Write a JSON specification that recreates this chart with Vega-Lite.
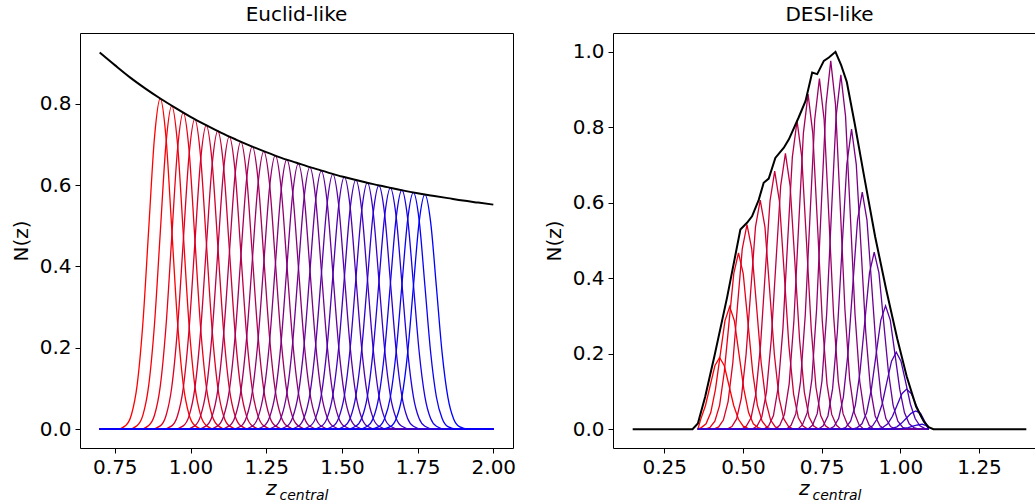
{
"$schema":"https://vega.github.io/schema/vega-lite/v6.json",
"padding":{"left":10,"top":4,"right":0,"bottom":0},
"spacing":26,
"config":{"font":"DejaVu Sans","view":{"stroke":"#000","strokeWidth":1},
"axis":{"domain":false,"grid":false,"tickColor":"#000","tickSize":5,"tickWidth":1,"labelColor":"#000","labelFontSize":20,"labelFont":"DejaVu Sans","titleColor":"#000","titleFontSize":20,"titleFontWeight":"normal","titleFont":"DejaVu Sans","labelPadding":4,"labelFlush":false},
"title":{"fontSize":20,"fontWeight":"normal","color":"#000","font":"DejaVu Sans","offset":8}},
"datasets":{
"E":[
{"c":0,"z":0.7,"n":0},{"c":0,"z":0.757,"n":0},{"c":0,"z":0.786,"n":0.009},{"c":0,"z":0.805,"n":0.036},{"c":0,"z":0.824,"n":0.11},{"c":0,"z":0.843,"n":0.264},{"c":0,"z":0.862,"n":0.493},{"c":0,"z":0.881,"n":0.717},{"c":0,"z":0.9,"n":0.813},{"c":0,"z":0.919,"n":0.717},{"c":0,"z":0.938,"n":0.493},{"c":0,"z":0.957,"n":0.264},{"c":0,"z":0.976,"n":0.11},{"c":0,"z":0.995,"n":0.036},{"c":0,"z":1.014,"n":0.009},{"c":0,"z":1.043,"n":0},{"c":0,"z":2,"n":0},
{"c":1,"z":0.7,"n":0},{"c":1,"z":0.795,"n":0},{"c":1,"z":0.824,"n":0.009},{"c":1,"z":0.843,"n":0.035},{"c":1,"z":0.862,"n":0.108},{"c":1,"z":0.881,"n":0.258},{"c":1,"z":0.9,"n":0.482},{"c":1,"z":0.919,"n":0.702},{"c":1,"z":0.938,"n":0.795},{"c":1,"z":0.957,"n":0.702},{"c":1,"z":0.976,"n":0.482},{"c":1,"z":0.995,"n":0.258},{"c":1,"z":1.014,"n":0.108},{"c":1,"z":1.033,"n":0.035},{"c":1,"z":1.052,"n":0.009},{"c":1,"z":1.081,"n":0},{"c":1,"z":2,"n":0},
{"c":2,"z":0.7,"n":0},{"c":2,"z":0.833,"n":0},{"c":2,"z":0.862,"n":0.009},{"c":2,"z":0.881,"n":0.034},{"c":2,"z":0.9,"n":0.105},{"c":2,"z":0.919,"n":0.253},{"c":2,"z":0.938,"n":0.472},{"c":2,"z":0.957,"n":0.687},{"c":2,"z":0.976,"n":0.778},{"c":2,"z":0.995,"n":0.687},{"c":2,"z":1.014,"n":0.472},{"c":2,"z":1.033,"n":0.253},{"c":2,"z":1.052,"n":0.105},{"c":2,"z":1.071,"n":0.034},{"c":2,"z":1.09,"n":0.009},{"c":2,"z":1.119,"n":0},{"c":2,"z":2,"n":0},
{"c":3,"z":0.7,"n":0},{"c":3,"z":0.871,"n":0},{"c":3,"z":0.9,"n":0.008},{"c":3,"z":0.919,"n":0.033},{"c":3,"z":0.938,"n":0.103},{"c":3,"z":0.957,"n":0.247},{"c":3,"z":0.976,"n":0.462},{"c":3,"z":0.995,"n":0.672},{"c":3,"z":1.014,"n":0.762},{"c":3,"z":1.033,"n":0.672},{"c":3,"z":1.052,"n":0.462},{"c":3,"z":1.071,"n":0.247},{"c":3,"z":1.09,"n":0.103},{"c":3,"z":1.109,"n":0.033},{"c":3,"z":1.128,"n":0.008},{"c":3,"z":1.157,"n":0},{"c":3,"z":2,"n":0},
{"c":4,"z":0.7,"n":0},{"c":4,"z":0.909,"n":0},{"c":4,"z":0.938,"n":0.008},{"c":4,"z":0.957,"n":0.033},{"c":4,"z":0.976,"n":0.101},{"c":4,"z":0.995,"n":0.243},{"c":4,"z":1.014,"n":0.453},{"c":4,"z":1.033,"n":0.659},{"c":4,"z":1.052,"n":0.747},{"c":4,"z":1.071,"n":0.659},{"c":4,"z":1.09,"n":0.453},{"c":4,"z":1.109,"n":0.243},{"c":4,"z":1.128,"n":0.101},{"c":4,"z":1.147,"n":0.033},{"c":4,"z":1.166,"n":0.008},{"c":4,"z":1.195,"n":0},{"c":4,"z":2,"n":0},
{"c":5,"z":0.7,"n":0},{"c":5,"z":0.947,"n":0},{"c":5,"z":0.976,"n":0.008},{"c":5,"z":0.995,"n":0.032},{"c":5,"z":1.014,"n":0.099},{"c":5,"z":1.033,"n":0.238},{"c":5,"z":1.052,"n":0.445},{"c":5,"z":1.071,"n":0.647},{"c":5,"z":1.09,"n":0.733},{"c":5,"z":1.109,"n":0.647},{"c":5,"z":1.128,"n":0.445},{"c":5,"z":1.147,"n":0.238},{"c":5,"z":1.166,"n":0.099},{"c":5,"z":1.185,"n":0.032},{"c":5,"z":1.204,"n":0.008},{"c":5,"z":1.233,"n":0},{"c":5,"z":2,"n":0},
{"c":6,"z":0.7,"n":0},{"c":6,"z":0.985,"n":0},{"c":6,"z":1.014,"n":0.008},{"c":6,"z":1.033,"n":0.032},{"c":6,"z":1.052,"n":0.097},{"c":6,"z":1.071,"n":0.233},{"c":6,"z":1.09,"n":0.436},{"c":6,"z":1.109,"n":0.635},{"c":6,"z":1.128,"n":0.719},{"c":6,"z":1.147,"n":0.635},{"c":6,"z":1.166,"n":0.436},{"c":6,"z":1.185,"n":0.233},{"c":6,"z":1.204,"n":0.097},{"c":6,"z":1.223,"n":0.032},{"c":6,"z":1.242,"n":0.008},{"c":6,"z":1.271,"n":0},{"c":6,"z":2,"n":0},
{"c":7,"z":0.7,"n":0},{"c":7,"z":1.023,"n":0},{"c":7,"z":1.052,"n":0.008},{"c":7,"z":1.071,"n":0.031},{"c":7,"z":1.09,"n":0.096},{"c":7,"z":1.109,"n":0.23},{"c":7,"z":1.128,"n":0.429},{"c":7,"z":1.147,"n":0.624},{"c":7,"z":1.166,"n":0.707},{"c":7,"z":1.185,"n":0.624},{"c":7,"z":1.204,"n":0.429},{"c":7,"z":1.223,"n":0.23},{"c":7,"z":1.242,"n":0.096},{"c":7,"z":1.261,"n":0.031},{"c":7,"z":1.28,"n":0.008},{"c":7,"z":1.309,"n":0},{"c":7,"z":2,"n":0},
{"c":8,"z":0.7,"n":0},{"c":8,"z":1.061,"n":0},{"c":8,"z":1.09,"n":0.008},{"c":8,"z":1.109,"n":0.031},{"c":8,"z":1.128,"n":0.094},{"c":8,"z":1.147,"n":0.226},{"c":8,"z":1.166,"n":0.422},{"c":8,"z":1.185,"n":0.613},{"c":8,"z":1.204,"n":0.695},{"c":8,"z":1.223,"n":0.613},{"c":8,"z":1.242,"n":0.422},{"c":8,"z":1.261,"n":0.226},{"c":8,"z":1.28,"n":0.094},{"c":8,"z":1.299,"n":0.031},{"c":8,"z":1.318,"n":0.008},{"c":8,"z":1.347,"n":0},{"c":8,"z":2,"n":0},
{"c":9,"z":0.7,"n":0},{"c":9,"z":1.099,"n":0},{"c":9,"z":1.128,"n":0.008},{"c":9,"z":1.147,"n":0.03},{"c":9,"z":1.166,"n":0.092},{"c":9,"z":1.185,"n":0.222},{"c":9,"z":1.204,"n":0.414},{"c":9,"z":1.223,"n":0.603},{"c":9,"z":1.242,"n":0.683},{"c":9,"z":1.261,"n":0.603},{"c":9,"z":1.28,"n":0.414},{"c":9,"z":1.299,"n":0.222},{"c":9,"z":1.318,"n":0.092},{"c":9,"z":1.337,"n":0.03},{"c":9,"z":1.356,"n":0.008},{"c":9,"z":1.385,"n":0},{"c":9,"z":2,"n":0},
{"c":10,"z":0.7,"n":0},{"c":10,"z":1.137,"n":0},{"c":10,"z":1.166,"n":0.007},{"c":10,"z":1.185,"n":0.03},{"c":10,"z":1.204,"n":0.091},{"c":10,"z":1.223,"n":0.219},{"c":10,"z":1.242,"n":0.408},{"c":10,"z":1.261,"n":0.594},{"c":10,"z":1.28,"n":0.673},{"c":10,"z":1.299,"n":0.594},{"c":10,"z":1.318,"n":0.408},{"c":10,"z":1.337,"n":0.219},{"c":10,"z":1.356,"n":0.091},{"c":10,"z":1.375,"n":0.03},{"c":10,"z":1.394,"n":0.007},{"c":10,"z":1.423,"n":0},{"c":10,"z":2,"n":0},
{"c":11,"z":0.7,"n":0},{"c":11,"z":1.175,"n":0},{"c":11,"z":1.204,"n":0.007},{"c":11,"z":1.223,"n":0.029},{"c":11,"z":1.242,"n":0.09},{"c":11,"z":1.261,"n":0.215},{"c":11,"z":1.28,"n":0.402},{"c":11,"z":1.299,"n":0.585},{"c":11,"z":1.318,"n":0.663},{"c":11,"z":1.337,"n":0.585},{"c":11,"z":1.356,"n":0.402},{"c":11,"z":1.375,"n":0.215},{"c":11,"z":1.394,"n":0.09},{"c":11,"z":1.413,"n":0.029},{"c":11,"z":1.432,"n":0.007},{"c":11,"z":1.461,"n":0},{"c":11,"z":2,"n":0},
{"c":12,"z":0.7,"n":0},{"c":12,"z":1.213,"n":0},{"c":12,"z":1.242,"n":0.007},{"c":12,"z":1.261,"n":0.029},{"c":12,"z":1.28,"n":0.088},{"c":12,"z":1.299,"n":0.212},{"c":12,"z":1.318,"n":0.396},{"c":12,"z":1.337,"n":0.576},{"c":12,"z":1.356,"n":0.653},{"c":12,"z":1.375,"n":0.576},{"c":12,"z":1.394,"n":0.396},{"c":12,"z":1.413,"n":0.212},{"c":12,"z":1.432,"n":0.088},{"c":12,"z":1.451,"n":0.029},{"c":12,"z":1.47,"n":0.007},{"c":12,"z":1.499,"n":0},{"c":12,"z":2,"n":0},
{"c":13,"z":0.7,"n":0},{"c":13,"z":1.251,"n":0},{"c":13,"z":1.28,"n":0.007},{"c":13,"z":1.299,"n":0.028},{"c":13,"z":1.318,"n":0.087},{"c":13,"z":1.337,"n":0.209},{"c":13,"z":1.356,"n":0.391},{"c":13,"z":1.375,"n":0.568},{"c":13,"z":1.394,"n":0.644},{"c":13,"z":1.413,"n":0.568},{"c":13,"z":1.432,"n":0.391},{"c":13,"z":1.451,"n":0.209},{"c":13,"z":1.47,"n":0.087},{"c":13,"z":1.489,"n":0.028},{"c":13,"z":1.508,"n":0.007},{"c":13,"z":1.537,"n":0},{"c":13,"z":2,"n":0},
{"c":14,"z":0.7,"n":0},{"c":14,"z":1.289,"n":0},{"c":14,"z":1.318,"n":0.007},{"c":14,"z":1.337,"n":0.028},{"c":14,"z":1.356,"n":0.086},{"c":14,"z":1.375,"n":0.206},{"c":14,"z":1.394,"n":0.385},{"c":14,"z":1.413,"n":0.56},{"c":14,"z":1.432,"n":0.635},{"c":14,"z":1.451,"n":0.56},{"c":14,"z":1.47,"n":0.385},{"c":14,"z":1.489,"n":0.206},{"c":14,"z":1.508,"n":0.086},{"c":14,"z":1.527,"n":0.028},{"c":14,"z":1.546,"n":0.007},{"c":14,"z":1.575,"n":0},{"c":14,"z":2,"n":0},
{"c":15,"z":0.7,"n":0},{"c":15,"z":1.327,"n":0},{"c":15,"z":1.356,"n":0.007},{"c":15,"z":1.375,"n":0.028},{"c":15,"z":1.394,"n":0.085},{"c":15,"z":1.413,"n":0.204},{"c":15,"z":1.432,"n":0.38},{"c":15,"z":1.451,"n":0.553},{"c":15,"z":1.47,"n":0.627},{"c":15,"z":1.489,"n":0.553},{"c":15,"z":1.508,"n":0.38},{"c":15,"z":1.527,"n":0.204},{"c":15,"z":1.546,"n":0.085},{"c":15,"z":1.565,"n":0.028},{"c":15,"z":1.584,"n":0.007},{"c":15,"z":1.613,"n":0},{"c":15,"z":2,"n":0},
{"c":16,"z":0.7,"n":0},{"c":16,"z":1.365,"n":0},{"c":16,"z":1.394,"n":0.007},{"c":16,"z":1.413,"n":0.027},{"c":16,"z":1.432,"n":0.084},{"c":16,"z":1.451,"n":0.201},{"c":16,"z":1.47,"n":0.376},{"c":16,"z":1.489,"n":0.547},{"c":16,"z":1.508,"n":0.62},{"c":16,"z":1.527,"n":0.547},{"c":16,"z":1.546,"n":0.376},{"c":16,"z":1.565,"n":0.201},{"c":16,"z":1.584,"n":0.084},{"c":16,"z":1.603,"n":0.027},{"c":16,"z":1.622,"n":0.007},{"c":16,"z":1.651,"n":0},{"c":16,"z":2,"n":0},
{"c":17,"z":0.7,"n":0},{"c":17,"z":1.403,"n":0},{"c":17,"z":1.432,"n":0.007},{"c":17,"z":1.451,"n":0.027},{"c":17,"z":1.47,"n":0.083},{"c":17,"z":1.489,"n":0.199},{"c":17,"z":1.508,"n":0.372},{"c":17,"z":1.527,"n":0.541},{"c":17,"z":1.546,"n":0.613},{"c":17,"z":1.565,"n":0.541},{"c":17,"z":1.584,"n":0.372},{"c":17,"z":1.603,"n":0.199},{"c":17,"z":1.622,"n":0.083},{"c":17,"z":1.641,"n":0.027},{"c":17,"z":1.66,"n":0.007},{"c":17,"z":1.689,"n":0},{"c":17,"z":2,"n":0},
{"c":18,"z":0.7,"n":0},{"c":18,"z":1.441,"n":0},{"c":18,"z":1.47,"n":0.007},{"c":18,"z":1.489,"n":0.027},{"c":18,"z":1.508,"n":0.082},{"c":18,"z":1.527,"n":0.197},{"c":18,"z":1.546,"n":0.368},{"c":18,"z":1.565,"n":0.535},{"c":18,"z":1.584,"n":0.606},{"c":18,"z":1.603,"n":0.535},{"c":18,"z":1.622,"n":0.368},{"c":18,"z":1.641,"n":0.197},{"c":18,"z":1.66,"n":0.082},{"c":18,"z":1.679,"n":0.027},{"c":18,"z":1.698,"n":0.007},{"c":18,"z":1.727,"n":0},{"c":18,"z":2,"n":0},
{"c":19,"z":0.7,"n":0},{"c":19,"z":1.479,"n":0},{"c":19,"z":1.508,"n":0.007},{"c":19,"z":1.527,"n":0.026},{"c":19,"z":1.546,"n":0.081},{"c":19,"z":1.565,"n":0.194},{"c":19,"z":1.584,"n":0.363},{"c":19,"z":1.603,"n":0.529},{"c":19,"z":1.622,"n":0.599},{"c":19,"z":1.641,"n":0.529},{"c":19,"z":1.66,"n":0.363},{"c":19,"z":1.679,"n":0.194},{"c":19,"z":1.698,"n":0.081},{"c":19,"z":1.717,"n":0.026},{"c":19,"z":1.736,"n":0.007},{"c":19,"z":1.765,"n":0},{"c":19,"z":2,"n":0},
{"c":20,"z":0.7,"n":0},{"c":20,"z":1.517,"n":0},{"c":20,"z":1.546,"n":0.007},{"c":20,"z":1.565,"n":0.026},{"c":20,"z":1.584,"n":0.08},{"c":20,"z":1.603,"n":0.193},{"c":20,"z":1.622,"n":0.36},{"c":20,"z":1.641,"n":0.523},{"c":20,"z":1.66,"n":0.593},{"c":20,"z":1.679,"n":0.523},{"c":20,"z":1.698,"n":0.36},{"c":20,"z":1.717,"n":0.193},{"c":20,"z":1.736,"n":0.08},{"c":20,"z":1.755,"n":0.026},{"c":20,"z":1.774,"n":0.007},{"c":20,"z":1.803,"n":0},{"c":20,"z":2,"n":0},
{"c":21,"z":0.7,"n":0},{"c":21,"z":1.555,"n":0},{"c":21,"z":1.584,"n":0.007},{"c":21,"z":1.603,"n":0.026},{"c":21,"z":1.622,"n":0.08},{"c":21,"z":1.641,"n":0.191},{"c":21,"z":1.66,"n":0.357},{"c":21,"z":1.679,"n":0.519},{"c":21,"z":1.698,"n":0.588},{"c":21,"z":1.717,"n":0.519},{"c":21,"z":1.736,"n":0.357},{"c":21,"z":1.755,"n":0.191},{"c":21,"z":1.774,"n":0.08},{"c":21,"z":1.793,"n":0.026},{"c":21,"z":1.812,"n":0.007},{"c":21,"z":1.841,"n":0},{"c":21,"z":2,"n":0},
{"c":22,"z":0.7,"n":0},{"c":22,"z":1.593,"n":0},{"c":22,"z":1.622,"n":0.006},{"c":22,"z":1.641,"n":0.026},{"c":22,"z":1.66,"n":0.079},{"c":22,"z":1.679,"n":0.189},{"c":22,"z":1.698,"n":0.353},{"c":22,"z":1.717,"n":0.514},{"c":22,"z":1.736,"n":0.582},{"c":22,"z":1.755,"n":0.514},{"c":22,"z":1.774,"n":0.353},{"c":22,"z":1.793,"n":0.189},{"c":22,"z":1.812,"n":0.079},{"c":22,"z":1.831,"n":0.026},{"c":22,"z":1.85,"n":0.006},{"c":22,"z":1.879,"n":0},{"c":22,"z":2,"n":0},
{"c":23,"z":0.7,"n":0},{"c":23,"z":1.631,"n":0},{"c":23,"z":1.66,"n":0.006},{"c":23,"z":1.679,"n":0.025},{"c":23,"z":1.698,"n":0.078},{"c":23,"z":1.717,"n":0.187},{"c":23,"z":1.736,"n":0.35},{"c":23,"z":1.755,"n":0.509},{"c":23,"z":1.774,"n":0.577},{"c":23,"z":1.793,"n":0.509},{"c":23,"z":1.812,"n":0.35},{"c":23,"z":1.831,"n":0.187},{"c":23,"z":1.85,"n":0.078},{"c":23,"z":1.869,"n":0.025},{"c":23,"z":1.888,"n":0.006},{"c":23,"z":1.917,"n":0},{"c":23,"z":2,"n":0}
],
"EE":[
{"z":0.7,"n":0.926},{"z":0.75,"n":0.895},{"z":0.8,"n":0.865},{"z":0.85,"n":0.838},{"z":0.9,"n":0.813},{"z":0.95,"n":0.79},{"z":1.0,"n":0.768},{"z":1.05,"n":0.748},{"z":1.1,"n":0.729},{"z":1.15,"n":0.712},{"z":1.2,"n":0.696},{"z":1.25,"n":0.681},{"z":1.3,"n":0.667},{"z":1.35,"n":0.655},{"z":1.4,"n":0.643},{"z":1.45,"n":0.632},{"z":1.5,"n":0.621},{"z":1.55,"n":0.612},{"z":1.6,"n":0.603},{"z":1.65,"n":0.595},{"z":1.7,"n":0.587},{"z":1.75,"n":0.58},{"z":1.8,"n":0.574},{"z":1.85,"n":0.568},{"z":1.9,"n":0.562},{"z":1.95,"n":0.557},{"z":2.0,"n":0.552}
],
"D":[
{"c":0,"z":0.357,"n":0},{"c":0,"z":0.366,"n":0.026},{"c":0,"z":0.381,"n":0.062},{"c":0,"z":0.396,"n":0.115},{"c":0,"z":0.411,"n":0.168},{"c":0,"z":0.426,"n":0.19},{"c":0,"z":0.441,"n":0.168},{"c":0,"z":0.456,"n":0.115},{"c":0,"z":0.471,"n":0.062},{"c":0,"z":0.486,"n":0.026},{"c":0,"z":0.501,"n":0.008},{"c":0,"z":0.516,"n":0.002},{"c":0,"z":0.531,"n":0},{"c":0,"z":1.09,"n":0},
{"c":1,"z":0.357,"n":0},{"c":1,"z":0.368,"n":0.004},{"c":1,"z":0.383,"n":0.014},{"c":1,"z":0.398,"n":0.044},{"c":1,"z":0.413,"n":0.106},{"c":1,"z":0.428,"n":0.197},{"c":1,"z":0.443,"n":0.287},{"c":1,"z":0.458,"n":0.325},{"c":1,"z":0.473,"n":0.287},{"c":1,"z":0.488,"n":0.197},{"c":1,"z":0.503,"n":0.106},{"c":1,"z":0.518,"n":0.044},{"c":1,"z":0.533,"n":0.014},{"c":1,"z":0.548,"n":0.004},{"c":1,"z":0.563,"n":0},{"c":1,"z":1.09,"n":0},
{"c":2,"z":0.357,"n":0},{"c":2,"z":0.381,"n":0},{"c":2,"z":0.396,"n":0.005},{"c":2,"z":0.411,"n":0.021},{"c":2,"z":0.426,"n":0.063},{"c":2,"z":0.441,"n":0.152},{"c":2,"z":0.456,"n":0.283},{"c":2,"z":0.471,"n":0.412},{"c":2,"z":0.486,"n":0.467},{"c":2,"z":0.501,"n":0.412},{"c":2,"z":0.516,"n":0.283},{"c":2,"z":0.531,"n":0.152},{"c":2,"z":0.546,"n":0.063},{"c":2,"z":0.561,"n":0.021},{"c":2,"z":0.576,"n":0.005},{"c":2,"z":0.591,"n":0},{"c":2,"z":1.09,"n":0},
{"c":3,"z":0.357,"n":0},{"c":3,"z":0.408,"n":0},{"c":3,"z":0.423,"n":0.006},{"c":3,"z":0.438,"n":0.024},{"c":3,"z":0.453,"n":0.073},{"c":3,"z":0.468,"n":0.176},{"c":3,"z":0.483,"n":0.329},{"c":3,"z":0.498,"n":0.478},{"c":3,"z":0.513,"n":0.542},{"c":3,"z":0.528,"n":0.478},{"c":3,"z":0.543,"n":0.329},{"c":3,"z":0.558,"n":0.176},{"c":3,"z":0.573,"n":0.073},{"c":3,"z":0.588,"n":0.024},{"c":3,"z":0.603,"n":0.006},{"c":3,"z":0.618,"n":0},{"c":3,"z":1.09,"n":0},
{"c":4,"z":0.357,"n":0},{"c":4,"z":0.45,"n":0},{"c":4,"z":0.465,"n":0.007},{"c":4,"z":0.48,"n":0.027},{"c":4,"z":0.495,"n":0.082},{"c":4,"z":0.51,"n":0.197},{"c":4,"z":0.525,"n":0.368},{"c":4,"z":0.54,"n":0.536},{"c":4,"z":0.555,"n":0.607},{"c":4,"z":0.57,"n":0.536},{"c":4,"z":0.585,"n":0.368},{"c":4,"z":0.6,"n":0.197},{"c":4,"z":0.615,"n":0.082},{"c":4,"z":0.63,"n":0.027},{"c":4,"z":0.645,"n":0.007},{"c":4,"z":0.66,"n":0},{"c":4,"z":1.09,"n":0},
{"c":5,"z":0.357,"n":0},{"c":5,"z":0.496,"n":0},{"c":5,"z":0.511,"n":0.008},{"c":5,"z":0.526,"n":0.03},{"c":5,"z":0.541,"n":0.093},{"c":5,"z":0.556,"n":0.222},{"c":5,"z":0.571,"n":0.415},{"c":5,"z":0.586,"n":0.604},{"c":5,"z":0.601,"n":0.684},{"c":5,"z":0.616,"n":0.604},{"c":5,"z":0.631,"n":0.415},{"c":5,"z":0.646,"n":0.222},{"c":5,"z":0.661,"n":0.093},{"c":5,"z":0.676,"n":0.03},{"c":5,"z":0.691,"n":0.008},{"c":5,"z":0.706,"n":0},{"c":5,"z":1.09,"n":0},
{"c":6,"z":0.357,"n":0},{"c":6,"z":0.53,"n":0},{"c":6,"z":0.545,"n":0.008},{"c":6,"z":0.56,"n":0.032},{"c":6,"z":0.575,"n":0.099},{"c":6,"z":0.59,"n":0.237},{"c":6,"z":0.605,"n":0.443},{"c":6,"z":0.62,"n":0.645},{"c":6,"z":0.635,"n":0.731},{"c":6,"z":0.65,"n":0.645},{"c":6,"z":0.665,"n":0.443},{"c":6,"z":0.68,"n":0.237},{"c":6,"z":0.695,"n":0.099},{"c":6,"z":0.71,"n":0.032},{"c":6,"z":0.725,"n":0.008},{"c":6,"z":0.74,"n":0},{"c":6,"z":1.09,"n":0},
{"c":7,"z":0.357,"n":0},{"c":7,"z":0.567,"n":0},{"c":7,"z":0.582,"n":0.009},{"c":7,"z":0.597,"n":0.036},{"c":7,"z":0.612,"n":0.111},{"c":7,"z":0.627,"n":0.265},{"c":7,"z":0.642,"n":0.496},{"c":7,"z":0.657,"n":0.721},{"c":7,"z":0.672,"n":0.817},{"c":7,"z":0.687,"n":0.721},{"c":7,"z":0.702,"n":0.496},{"c":7,"z":0.717,"n":0.265},{"c":7,"z":0.732,"n":0.111},{"c":7,"z":0.747,"n":0.036},{"c":7,"z":0.762,"n":0.009},{"c":7,"z":0.777,"n":0},{"c":7,"z":1.09,"n":0},
{"c":8,"z":0.357,"n":0},{"c":8,"z":0.602,"n":0},{"c":8,"z":0.617,"n":0.01},{"c":8,"z":0.632,"n":0.039},{"c":8,"z":0.647,"n":0.12},{"c":8,"z":0.662,"n":0.288},{"c":8,"z":0.677,"n":0.539},{"c":8,"z":0.692,"n":0.784},{"c":8,"z":0.707,"n":0.888},{"c":8,"z":0.722,"n":0.784},{"c":8,"z":0.737,"n":0.539},{"c":8,"z":0.752,"n":0.288},{"c":8,"z":0.767,"n":0.12},{"c":8,"z":0.782,"n":0.039},{"c":8,"z":0.797,"n":0.01},{"c":8,"z":0.812,"n":0},{"c":8,"z":1.09,"n":0},
{"c":9,"z":0.357,"n":0},{"c":9,"z":0.638,"n":0},{"c":9,"z":0.653,"n":0.01},{"c":9,"z":0.668,"n":0.041},{"c":9,"z":0.683,"n":0.126},{"c":9,"z":0.698,"n":0.302},{"c":9,"z":0.713,"n":0.563},{"c":9,"z":0.728,"n":0.82},{"c":9,"z":0.743,"n":0.929},{"c":9,"z":0.758,"n":0.82},{"c":9,"z":0.773,"n":0.563},{"c":9,"z":0.788,"n":0.302},{"c":9,"z":0.803,"n":0.126},{"c":9,"z":0.818,"n":0.041},{"c":9,"z":0.833,"n":0.01},{"c":9,"z":0.848,"n":0},{"c":9,"z":1.09,"n":0},
{"c":10,"z":0.357,"n":0},{"c":10,"z":0.674,"n":0},{"c":10,"z":0.689,"n":0.011},{"c":10,"z":0.704,"n":0.043},{"c":10,"z":0.719,"n":0.132},{"c":10,"z":0.734,"n":0.317},{"c":10,"z":0.749,"n":0.592},{"c":10,"z":0.764,"n":0.861},{"c":10,"z":0.779,"n":0.976},{"c":10,"z":0.794,"n":0.861},{"c":10,"z":0.809,"n":0.592},{"c":10,"z":0.824,"n":0.317},{"c":10,"z":0.839,"n":0.132},{"c":10,"z":0.854,"n":0.043},{"c":10,"z":0.869,"n":0.011},{"c":10,"z":0.884,"n":0},{"c":10,"z":1.09,"n":0},
{"c":11,"z":0.357,"n":0},{"c":11,"z":0.706,"n":0},{"c":11,"z":0.721,"n":0.01},{"c":11,"z":0.736,"n":0.041},{"c":11,"z":0.751,"n":0.127},{"c":11,"z":0.766,"n":0.305},{"c":11,"z":0.781,"n":0.57},{"c":11,"z":0.796,"n":0.829},{"c":11,"z":0.811,"n":0.939},{"c":11,"z":0.826,"n":0.829},{"c":11,"z":0.841,"n":0.57},{"c":11,"z":0.856,"n":0.305},{"c":11,"z":0.871,"n":0.127},{"c":11,"z":0.886,"n":0.041},{"c":11,"z":0.901,"n":0.01},{"c":11,"z":0.916,"n":0},{"c":11,"z":1.09,"n":0},
{"c":12,"z":0.357,"n":0},{"c":12,"z":0.74,"n":0},{"c":12,"z":0.755,"n":0.009},{"c":12,"z":0.77,"n":0.035},{"c":12,"z":0.785,"n":0.108},{"c":12,"z":0.8,"n":0.258},{"c":12,"z":0.815,"n":0.482},{"c":12,"z":0.83,"n":0.702},{"c":12,"z":0.845,"n":0.795},{"c":12,"z":0.86,"n":0.702},{"c":12,"z":0.875,"n":0.482},{"c":12,"z":0.89,"n":0.258},{"c":12,"z":0.905,"n":0.108},{"c":12,"z":0.92,"n":0.035},{"c":12,"z":0.935,"n":0.009},{"c":12,"z":0.95,"n":0},{"c":12,"z":1.09,"n":0},
{"c":13,"z":0.357,"n":0},{"c":13,"z":0.774,"n":0},{"c":13,"z":0.789,"n":0.007},{"c":13,"z":0.804,"n":0.028},{"c":13,"z":0.819,"n":0.085},{"c":13,"z":0.834,"n":0.204},{"c":13,"z":0.849,"n":0.381},{"c":13,"z":0.864,"n":0.554},{"c":13,"z":0.879,"n":0.628},{"c":13,"z":0.894,"n":0.554},{"c":13,"z":0.909,"n":0.381},{"c":13,"z":0.924,"n":0.204},{"c":13,"z":0.939,"n":0.085},{"c":13,"z":0.954,"n":0.028},{"c":13,"z":0.969,"n":0.007},{"c":13,"z":0.984,"n":0},{"c":13,"z":1.09,"n":0},
{"c":14,"z":0.357,"n":0},{"c":14,"z":0.812,"n":0},{"c":14,"z":0.827,"n":0.005},{"c":14,"z":0.842,"n":0.021},{"c":14,"z":0.857,"n":0.063},{"c":14,"z":0.872,"n":0.152},{"c":14,"z":0.887,"n":0.284},{"c":14,"z":0.902,"n":0.414},{"c":14,"z":0.917,"n":0.469},{"c":14,"z":0.932,"n":0.414},{"c":14,"z":0.947,"n":0.284},{"c":14,"z":0.962,"n":0.152},{"c":14,"z":0.977,"n":0.063},{"c":14,"z":0.992,"n":0.021},{"c":14,"z":1.007,"n":0.005},{"c":14,"z":1.022,"n":0},{"c":14,"z":1.09,"n":0},
{"c":15,"z":0.357,"n":0},{"c":15,"z":0.848,"n":0},{"c":15,"z":0.863,"n":0.004},{"c":15,"z":0.878,"n":0.014},{"c":15,"z":0.893,"n":0.044},{"c":15,"z":0.908,"n":0.106},{"c":15,"z":0.923,"n":0.198},{"c":15,"z":0.938,"n":0.289},{"c":15,"z":0.953,"n":0.327},{"c":15,"z":0.968,"n":0.289},{"c":15,"z":0.983,"n":0.198},{"c":15,"z":0.998,"n":0.106},{"c":15,"z":1.013,"n":0.044},{"c":15,"z":1.028,"n":0.014},{"c":15,"z":1.043,"n":0.004},{"c":15,"z":1.058,"n":0},{"c":15,"z":1.09,"n":0},
{"c":16,"z":0.357,"n":0},{"c":16,"z":0.882,"n":0},{"c":16,"z":0.897,"n":0.002},{"c":16,"z":0.912,"n":0.009},{"c":16,"z":0.927,"n":0.028},{"c":16,"z":0.942,"n":0.066},{"c":16,"z":0.957,"n":0.124},{"c":16,"z":0.972,"n":0.18},{"c":16,"z":0.987,"n":0.204},{"c":16,"z":1.002,"n":0.18},{"c":16,"z":1.017,"n":0.124},{"c":16,"z":1.032,"n":0.066},{"c":16,"z":1.047,"n":0.028},{"c":16,"z":1.062,"n":0.009},{"c":16,"z":1.077,"n":0.002},{"c":16,"z":1.09,"n":0},
{"c":17,"z":0.357,"n":0},{"c":17,"z":0.915,"n":0},{"c":17,"z":0.93,"n":0.001},{"c":17,"z":0.945,"n":0.005},{"c":17,"z":0.96,"n":0.014},{"c":17,"z":0.975,"n":0.034},{"c":17,"z":0.99,"n":0.064},{"c":17,"z":1.005,"n":0.094},{"c":17,"z":1.02,"n":0.106},{"c":17,"z":1.035,"n":0.094},{"c":17,"z":1.05,"n":0.064},{"c":17,"z":1.065,"n":0.034},{"c":17,"z":1.08,"n":0.014},{"c":17,"z":1.09,"n":0},
{"c":18,"z":0.357,"n":0},{"c":18,"z":0.944,"n":0},{"c":18,"z":0.974,"n":0.002},{"c":18,"z":0.989,"n":0.006},{"c":18,"z":1.004,"n":0.016},{"c":18,"z":1.019,"n":0.029},{"c":18,"z":1.034,"n":0.042},{"c":18,"z":1.049,"n":0.048},{"c":18,"z":1.064,"n":0.042},{"c":18,"z":1.079,"n":0.018},{"c":18,"z":1.09,"n":0},
{"c":19,"z":0.357,"n":0},{"c":19,"z":0.995,"n":0},{"c":19,"z":1.01,"n":0.002},{"c":19,"z":1.025,"n":0.004},{"c":19,"z":1.04,"n":0.008},{"c":19,"z":1.055,"n":0.011},{"c":19,"z":1.07,"n":0.013},{"c":19,"z":1.085,"n":0.008},{"c":19,"z":1.09,"n":0}
],
"DE":[
{"z":0.15,"n":0},{"z":0.34,"n":0},{"z":0.357,"n":0.015},{"z":0.38,"n":0.085},{"z":0.41,"n":0.195},{"z":0.45,"n":0.35},{"z":0.492,"n":0.529},{"z":0.513,"n":0.547},{"z":0.529,"n":0.564},{"z":0.55,"n":0.607},{"z":0.566,"n":0.653},{"z":0.582,"n":0.664},{"z":0.603,"n":0.719},{"z":0.63,"n":0.746},{"z":0.646,"n":0.768},{"z":0.677,"n":0.826},{"z":0.699,"n":0.87},{"z":0.72,"n":0.945},{"z":0.736,"n":0.941},{"z":0.757,"n":0.976},{"z":0.773,"n":0.985},{"z":0.794,"n":1.0},{"z":0.812,"n":0.965},{"z":0.83,"n":0.92},{"z":0.855,"n":0.81},{"z":0.885,"n":0.67},{"z":0.92,"n":0.51},{"z":0.955,"n":0.37},{"z":0.99,"n":0.24},{"z":1.02,"n":0.14},{"z":1.05,"n":0.06},{"z":1.075,"n":0.02},{"z":1.09,"n":0.005},{"z":1.105,"n":0},{"z":1.4,"n":0}
]
},
"hconcat":[
{"width":433,"height":415,"title":{"text":"Euclid-like"},
"layer":[
{"data":{"name":"E"},"mark":{"type":"line","interpolate":"monotone","strokeWidth":1.3},
"encoding":{
"x":{"field":"z","type":"quantitative","scale":{"domain":[0.635,2.065],"nice":false,"zero":false},"axis":{"values":[0.75,1,1.25,1.5,1.75,2],"format":".2f","title":"z","titleFontStyle":"italic","titleAlign":"right","titleX":196,"titleY":46,"titleBaseline":"alphabetic"}},
"y":{"field":"n","type":"quantitative","title":"N(z)","scale":{"domain":[-0.0464,0.974],"nice":false,"zero":false},"axis":{"values":[0,0.2,0.4,0.6,0.8],"format":".1f","titlePadding":8}},
"color":{"field":"c","type":"quantitative","scale":{"domain":[0,23],"range":["#ff0000","#0000ff"],"interpolate":"rgb"},"legend":null},
"detail":{"field":"c","type":"nominal"}}},
{"data":{"name":"EE"},"mark":{"type":"line","interpolate":"monotone","color":"#000","strokeWidth":2},
"encoding":{
"x":{"field":"z","type":"quantitative","scale":{"domain":[0.635,2.065],"nice":false,"zero":false},"axis":{"orient":"bottom","title":"central","titleFontStyle":"italic","titleFontSize":14,"titleAlign":"left","titleX":199,"titleY":51,"titleBaseline":"alphabetic","labels":false,"ticks":false,"domain":false}},
"y":{"field":"n","type":"quantitative","title":"N(z)"}}}
],
"resolve":{"scale":{"x":"independent"}}},
{"width":433,"height":415,"title":{"text":"DESI-like"},
"layer":[
{"data":{"name":"D"},"mark":{"type":"line","strokeWidth":1.3},
"encoding":{
"x":{"field":"z","type":"quantitative","scale":{"domain":[0.0875,1.4625],"nice":false,"zero":false},"axis":{"values":[0.25,0.5,0.75,1,1.25],"format":".2f","title":"z","titleFontStyle":"italic","titleAlign":"right","titleX":196,"titleY":46,"titleBaseline":"alphabetic"}},
"y":{"field":"n","type":"quantitative","title":"N(z)","scale":{"domain":[-0.05,1.05],"nice":false,"zero":false},"axis":{"values":[0,0.2,0.4,0.6,0.8,1.0],"format":".1f","titlePadding":8}},
"color":{"field":"c","type":"quantitative","scale":{"domain":[0,19],"range":["#ff0000","#0000ff"],"interpolate":"rgb"},"legend":null},
"detail":{"field":"c","type":"nominal"}}},
{"data":{"name":"DE"},"mark":{"type":"line","color":"#000","strokeWidth":2},
"encoding":{
"x":{"field":"z","type":"quantitative","scale":{"domain":[0.0875,1.4625],"nice":false,"zero":false},"axis":{"orient":"bottom","title":"central","titleFontStyle":"italic","titleFontSize":14,"titleAlign":"left","titleX":199,"titleY":51,"titleBaseline":"alphabetic","labels":false,"ticks":false,"domain":false}},
"y":{"field":"n","type":"quantitative","title":"N(z)"}}}
],
"resolve":{"scale":{"x":"independent"}}}
]
}
